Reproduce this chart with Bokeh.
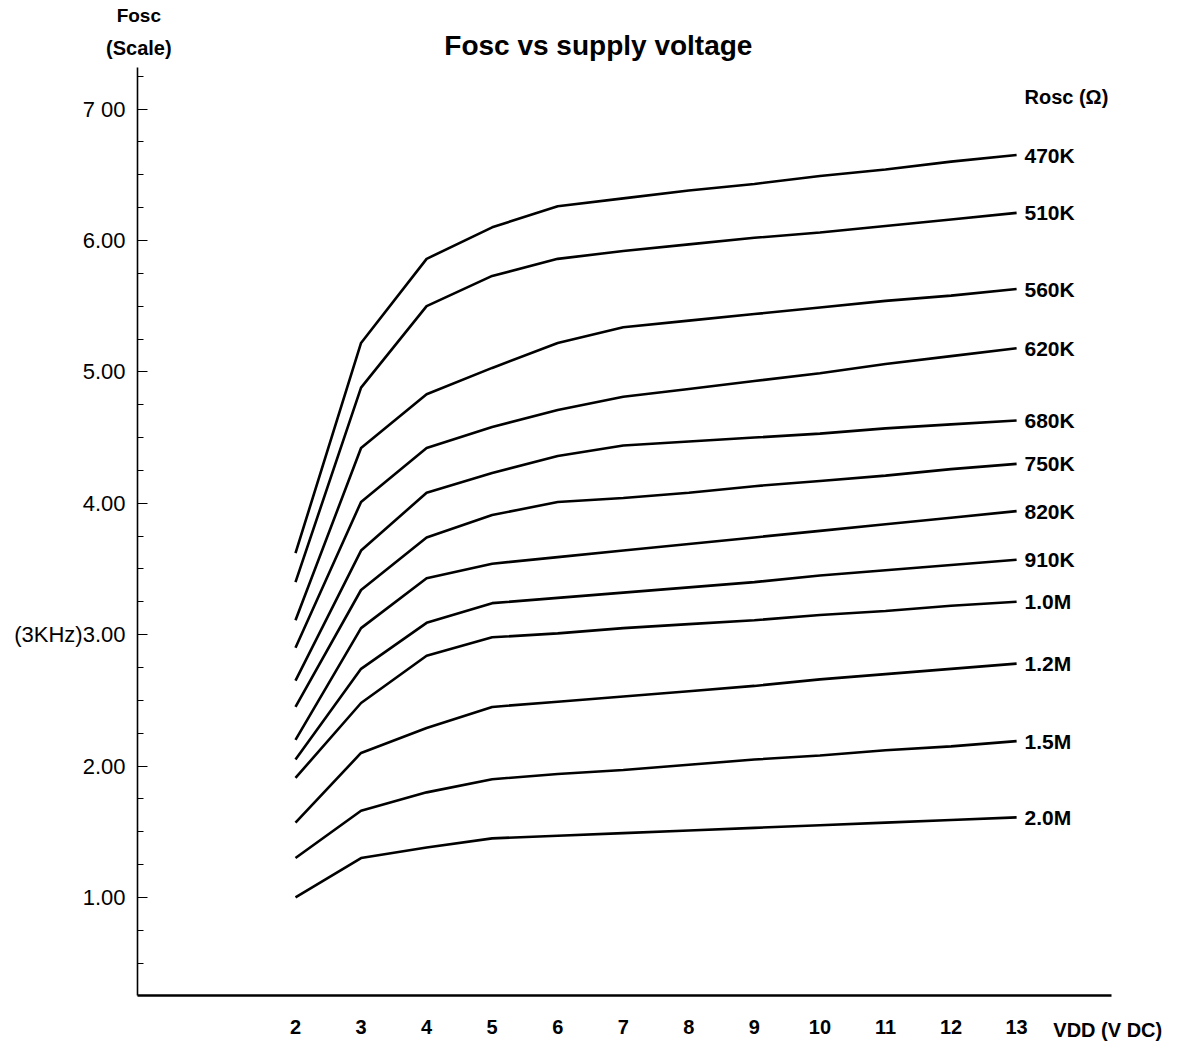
from bokeh.plotting import figure
from bokeh.models import FixedTicker, SingleIntervalTicker, Range1d, ColumnDataSource
from bokeh.core.properties import value
from bokeh.embed import file_html
from bokeh.resources import INLINE

# ---- data ----
vdd = [2, 3, 4, 5, 6, 7, 8, 9, 10, 11, 12, 13]
rosc_labels = ["470K", "510K", "560K", "620K", "680K", "750K", "820K", "910K", "1.0M", "1.2M", "1.5M", "2.0M"]
fosc_470k = [3.62, 5.22, 5.86, 6.10, 6.26, 6.32, 6.38, 6.43, 6.49, 6.54, 6.60, 6.65]
fosc_510k = [3.40, 4.88, 5.50, 5.73, 5.86, 5.92, 5.97, 6.02, 6.06, 6.11, 6.16, 6.21]
fosc_560k = [3.11, 4.42, 4.83, 5.03, 5.22, 5.34, 5.39, 5.44, 5.49, 5.54, 5.58, 5.63]
fosc_620k = [2.90, 4.01, 4.42, 4.58, 4.71, 4.81, 4.87, 4.93, 4.99, 5.06, 5.12, 5.18]
fosc_680k = [2.65, 3.64, 4.08, 4.23, 4.36, 4.44, 4.47, 4.50, 4.53, 4.57, 4.60, 4.63]
fosc_750k = [2.45, 3.34, 3.74, 3.91, 4.01, 4.04, 4.08, 4.13, 4.17, 4.21, 4.26, 4.30]
fosc_820k = [2.20, 3.05, 3.43, 3.54, 3.59, 3.64, 3.69, 3.74, 3.79, 3.84, 3.89, 3.94]
fosc_910k = [2.05, 2.74, 3.09, 3.24, 3.28, 3.32, 3.36, 3.40, 3.45, 3.49, 3.53, 3.57]
fosc_1m0 = [1.91, 2.48, 2.84, 2.98, 3.01, 3.05, 3.08, 3.11, 3.15, 3.18, 3.22, 3.25]
fosc_1m2 = [1.57, 2.10, 2.29, 2.45, 2.49, 2.53, 2.57, 2.61, 2.66, 2.70, 2.74, 2.78]
fosc_1m5 = [1.30, 1.66, 1.80, 1.90, 1.94, 1.97, 2.01, 2.05, 2.08, 2.12, 2.15, 2.19]
fosc_2m0 = [1.00, 1.30, 1.38, 1.45, 1.47, 1.49, 1.51, 1.53, 1.55, 1.57, 1.59, 1.61]
series = [fosc_470k, fosc_510k, fosc_560k, fosc_620k, fosc_680k, fosc_750k,
          fosc_820k, fosc_910k, fosc_1m0, fosc_1m2, fosc_1m5, fosc_2m0]
y_tick_labels = {1: "1.00", 2: "2.00", 3: "(3KHz)3.00", 4: "4.00", 5: "5.00", 6: "6.00", 7: "7 00"}
title_text = "Fosc vs supply voltage"
y_title = ["Fosc", "(Scale)"]
legend_title = "Rosc (Ω)"
x_title = "VDD (V DC)"

FONT = "Liberation Sans"

# axis extents (data units)
X_MIN, X_MAX = -0.41, 14.45
Y_MIN, Y_MAX = 0.254, 7.317

p = figure(width=1180, height=1046, output_backend="svg", toolbar_location=None,
           x_range=Range1d(-2.50, 15.50), y_range=Range1d(-0.134, 7.826),
           min_border_left=0, min_border_top=0, min_border_bottom=0, min_border_right=0)
p.outline_line_color = None
p.xgrid.visible = False
p.ygrid.visible = False
p.background_fill_color = "white"
p.border_fill_color = "white"

for ys in series:
    p.line(vdd, ys, line_color="black", line_width=2.6)

# end-of-line labels
src = ColumnDataSource(dict(x=[vdd[-1] + 0.12] * len(series), y=[s[-1] for s in series], t=rosc_labels))
p.text(x="x", y="y", text="t", source=src, text_font=value(FONT), text_font_style="bold",
       text_font_size="21px", text_baseline="middle", text_align="left", text_color="black")

def txt(x, y, t, size, align="center"):
    p.text(x=[x], y=[y], text=[t], text_font=value(FONT), text_font_style="bold",
           text_font_size=size, text_align=align, text_baseline="middle", text_color="black")

txt(6.62, 7.484, title_text, "28px")
txt(X_MIN + 0.02, 7.71, y_title[0], "19px")
txt(X_MIN + 0.02, 7.465, y_title[1], "20px")
txt(vdd[-1] + 0.12, 7.088, legend_title, "20px", align="left")
txt(vdd[-1] + 0.56, -0.005, x_title, "20px", align="left")

# axes
xa = p.xaxis[0]
xa.fixed_location = Y_MIN
xa.ticker = FixedTicker(ticks=vdd)
xa.bounds = (X_MIN, X_MAX)
xa.axis_line_width = 2.5
xa.major_tick_in = 0
xa.major_tick_out = 0
xa.minor_tick_in = 0
xa.minor_tick_out = 0
xa.major_label_standoff = 24
xa.major_label_text_font = FONT
xa.major_label_text_font_style = "bold"
xa.major_label_text_font_size = "20px"
xa.major_label_text_color = "black"

ya = p.yaxis[0]
ya.fixed_location = X_MIN
ya.ticker = SingleIntervalTicker(interval=1, num_minor_ticks=4)
ya.bounds = (Y_MIN, Y_MAX)
ya.major_label_overrides = y_tick_labels
ya.axis_line_width = 1.6
ya.major_tick_in = 10
ya.major_tick_out = 0
ya.minor_tick_in = 6
ya.minor_tick_out = 0
ya.major_label_standoff = 12
ya.major_label_text_font = FONT
ya.major_label_text_font_size = "22px"
ya.major_label_text_color = "black"

open("out.html", "w").write(file_html(p, INLINE))
